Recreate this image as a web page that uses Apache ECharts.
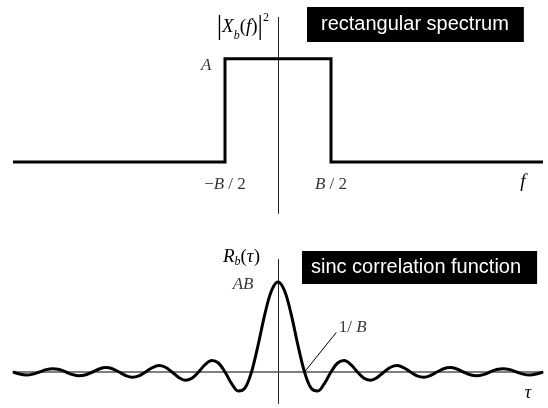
<!DOCTYPE html>
<html>
<head>
<meta charset="utf-8">
<script src="https://cdn.jsdelivr.net/npm/echarts@6/dist/echarts.min.js"></script>
<style>
  html, body { margin: 0; padding: 0; background: #fff; }
  #chart { width: 548px; height: 408px; }
</style>
</head>
<body>
<div id="chart"></div>
<script>
// Power spectral density: rectangle of height A between -B/2 and B/2 (f in units of B/2)
const fKnots   = [-5, -1, -1, 1, 1, 5];
const spectrum = [0, 0, 1, 1, 0, 0];
// Band-edge ticks on the frequency axis
const fTickPos    = [-1, 1];
const fTickLabels = ['{n|−}{i|B}{n| / 2}', '{i|B}{n| / 2}'];

// Autocorrelation R_b(τ), τ in units of 1/B, value in units of AB
const tau = [
  -10, -9.75, -9.5, -9.25, -9, -8.75, -8.5, -8.25, -8, -7.75, -7.5, -7.25, -7,
  -6.75, -6.5, -6.25, -6, -5.75, -5.5, -5.25, -5, -4.75, -4.5, -4.25, -4,
  -3.75, -3.5, -3.25, -3, -2.75, -2.5, -2.25, -2, -1.75, -1.5, -1.25, -1,
  -0.75, -0.5, -0.25, 0, 0.25, 0.5, 0.75, 1, 1.25, 1.5, 1.75, 2,
  2.25, 2.5, 2.75, 3, 3.25, 3.5, 3.75, 4, 4.25, 4.5, 4.75, 5,
  5.25, 5.5, 5.75, 6, 6.25, 6.5, 6.75, 7, 7.25, 7.5, 7.75, 8,
  8.25, 8.5, 8.75, 9, 9.25, 9.5, 9.75, 10
];
const corr = [
  0, -0.023, -0.034, -0.024, 0, 0.026, 0.037, 0.027, 0, -0.029, -0.042, -0.031, 0,
  0.033, 0.049, 0.036, 0, -0.039, -0.058, -0.043, 0, 0.047, 0.071, 0.053, 0,
  -0.060, -0.091, -0.069, 0, 0.082, 0.127, 0.100, 0, -0.129, -0.212, -0.180, 0,
  0.300, 0.637, 0.900, 1, 0.900, 0.637, 0.300, 0, -0.180, -0.212, -0.129, 0,
  0.100, 0.127, 0.082, 0, -0.069, -0.091, -0.060, 0, 0.053, 0.071, 0.047, 0,
  -0.043, -0.058, -0.039, 0, 0.036, 0.049, 0.033, 0, -0.031, -0.042, -0.029, 0,
  0.027, 0.037, 0.026, 0, -0.024, -0.034, -0.023, 0
];

// Leader line pointing at the first zero crossing τ = 1/B
const leaderTau = [1, 2.2];
const leaderVal = [0, 0.44];

const zip = (xs, ys) => xs.map((x, i) => [x, ys[i]]);

const SERIF = 'Liberation Serif';
const SANS = 'Liberation Sans';
const mathRich = {
  n: { fontFamily: SERIF, fontSize: 17, color: '#000', lineHeight: 20 },
  i: { fontFamily: SERIF, fontSize: 17, fontStyle: 'italic', color: '#000', lineHeight: 20 },
  N: { fontFamily: SERIF, fontSize: 19, color: '#000', lineHeight: 22 },
  I: { fontFamily: SERIF, fontSize: 19, fontStyle: 'italic', color: '#000', lineHeight: 22 },
  d: { fontFamily: SERIF, fontSize: 27, color: '#000', lineHeight: 30 },
  s: { fontFamily: SERIF, fontSize: 12, fontStyle: 'italic', color: '#000', lineHeight: 14, verticalAlign: 'bottom' },
  p: { fontFamily: SERIF, fontSize: 12, color: '#000', lineHeight: 13, verticalAlign: 'top' }
};

const axisCommon = {
  type: 'value',
  splitLine: { show: false },
  axisTick: { show: false },
  axisLabel: { show: false }
};

const hiddenDot = { symbolSize: 1, itemStyle: { color: 'rgba(0,0,0,0)' }, silent: true };

const chart = echarts.init(document.getElementById('chart'), null, { renderer: 'canvas' });

chart.setOption({
  backgroundColor: '#fff',
  animation: false,
  title: [
    {
      text: 'rectangular spectrum',
      left: 307, top: 7,
      backgroundColor: '#000',
      padding: [6, 15, 6, 14],
      textStyle: { color: '#fff', fontFamily: SANS, fontSize: 20, fontWeight: 'normal', lineHeight: 23 }
    },
    {
      text: 'sinc correlation function',
      left: 302, top: 251,
      backgroundColor: '#000',
      padding: [5, 16, 5, 9],
      textStyle: { color: '#fff', fontFamily: SANS, fontSize: 20, fontWeight: 'normal', lineHeight: 23 }
    }
  ],
  grid: [
    { left: 13, right: 5, top: 17.5, height: 196 },
    { left: 13, right: 5, top: 259.5, height: 144 }
  ],
  xAxis: [
    Object.assign({}, axisCommon, {
      gridIndex: 0, min: -5, max: 5, interval: 1,
      axisLine: { show: false }
    }),
    Object.assign({}, axisCommon, {
      gridIndex: 1, min: -10, max: 10, interval: 1,
      axisLine: { show: true, onZero: true, lineStyle: { color: '#555', width: 1.5 } }
    })
  ],
  yAxis: [
    Object.assign({}, axisCommon, {
      gridIndex: 0, min: -0.5, max: 1.4,
      axisLine: { show: true, onZero: true, lineStyle: { color: '#222', width: 1 } }
    }),
    Object.assign({}, axisCommon, {
      gridIndex: 1, min: -0.35, max: 1.25,
      axisLine: { show: true, onZero: true, lineStyle: { color: '#222', width: 1 } }
    })
  ],
  series: [
    {
      name: 'spectrum',
      type: 'line',
      xAxisIndex: 0, yAxisIndex: 0,
      data: zip(fKnots, spectrum),
      symbol: 'none',
      lineStyle: { color: '#000', width: 3, join: 'miter', cap: 'butt' },
      z: 3
    },
    Object.assign({
      name: 'band edges',
      type: 'scatter',
      xAxisIndex: 0, yAxisIndex: 0,
      data: fTickPos.map((f, i) => ({ value: [f, 0], label: { formatter: fTickLabels[i] } })),
      label: { show: true, position: 'bottom', distance: 12, rich: mathRich }
    }, hiddenDot),
    Object.assign({
      name: 'spectrum level',
      type: 'scatter',
      xAxisIndex: 0, yAxisIndex: 0,
      data: [[fKnots[2], spectrum[2]]],
      label: {
        show: true, position: 'left', distance: 13, offset: [0, 7],
        formatter: 'A',
        fontFamily: SERIF, fontSize: 17, fontStyle: 'italic', color: '#000'
      }
    }, hiddenDot),
    {
      name: 'correlation',
      type: 'line',
      xAxisIndex: 1, yAxisIndex: 1,
      data: zip(tau, corr),
      symbol: 'none',
      smooth: 0.35,
      lineStyle: { color: '#000', width: 3 },
      z: 3
    },
    Object.assign({
      name: 'correlation peak',
      type: 'scatter',
      xAxisIndex: 1, yAxisIndex: 1,
      data: [[0, 1]],
      label: {
        show: true, position: 'left', distance: 24, offset: [0, 3],
        formatter: 'AB',
        fontFamily: SERIF, fontSize: 17, fontStyle: 'italic', color: '#000'
      }
    }, hiddenDot),
    {
      name: 'first zero',
      type: 'line',
      xAxisIndex: 1, yAxisIndex: 1,
      data: zip(leaderTau, leaderVal),
      symbol: 'none',
      lineStyle: { color: '#000', width: 1 },
      z: 4
    },
    Object.assign({
      name: 'first zero label',
      type: 'scatter',
      xAxisIndex: 1, yAxisIndex: 1,
      data: [[leaderTau[1], leaderVal[1]]],
      label: {
        show: true, position: 'right', distance: 2, offset: [0, -5],
        formatter: '{n|1/ }{i|B}',
        rich: mathRich
      }
    }, hiddenDot)
  ],
  graphic: [
    {
      type: 'text', x: 269, y: 27,
      style: {
        text: '{d||}{I|X}{s|b}{N|(}{I|f}{N|)}{d||}{p|2}',
        align: 'right', verticalAlign: 'middle',
        rich: mathRich
      }
    },
    {
      type: 'text', x: 260, y: 257,
      style: {
        text: '{I|R}{s|b}{N|(}{I|τ}{N|)}',
        align: 'right', verticalAlign: 'middle',
        rich: mathRich
      }
    },
    {
      type: 'text', x: 523, y: 182,
      style: {
        text: 'f', align: 'center', verticalAlign: 'middle',
        font: 'italic 19px "Liberation Serif"', fill: '#000'
      }
    },
    {
      type: 'text', x: 528, y: 393,
      style: {
        text: 'τ', align: 'center', verticalAlign: 'middle',
        font: 'italic 18px "Liberation Serif"', fill: '#000'
      }
    }
  ]
});
</script>
</body>
</html>
